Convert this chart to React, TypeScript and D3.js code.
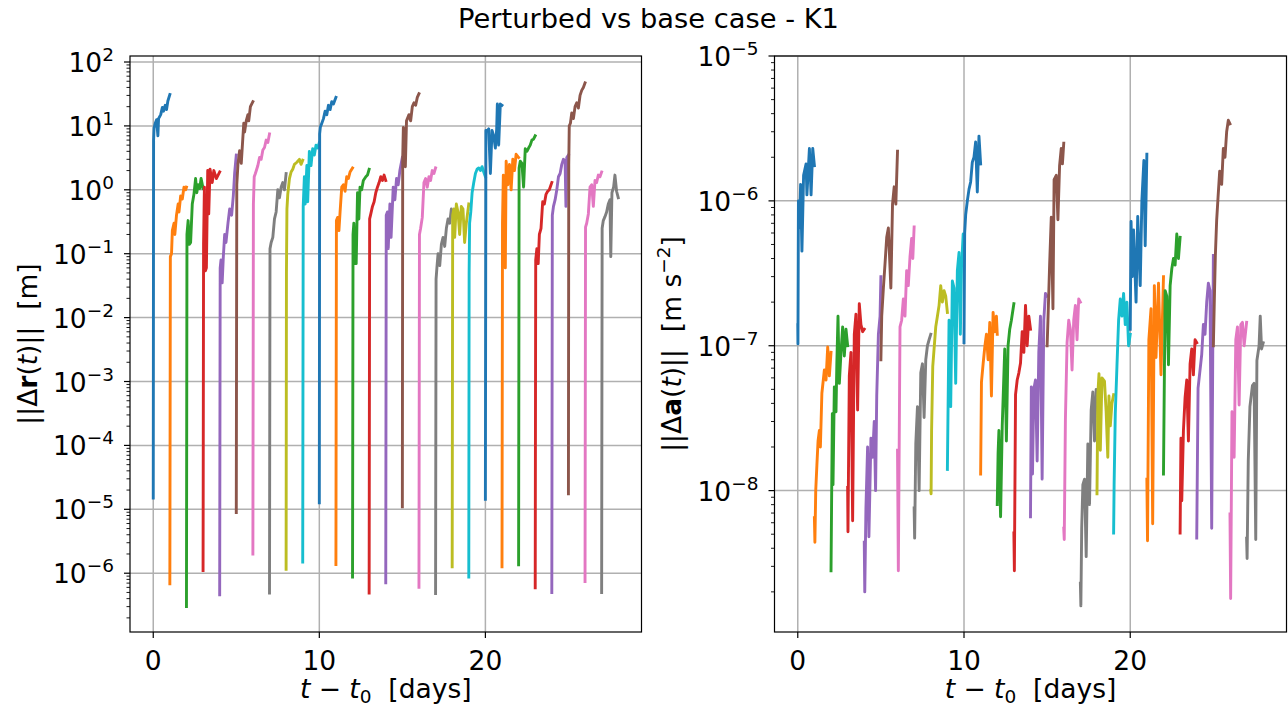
import React from 'react';
import * as d3 from 'd3';

const TITLE = 'Perturbed vs base case - K1';
const segDays = [0, 1, 2, 3, 4, 5, 6, 7, 8, 9, 10, 11, 12, 13, 14, 15, 16, 17, 18, 19, 20, 21, 22, 23, 24, 25, 26, 27];
const xTicks = [0, 10, 20];
const drTickExps = [-6, -5, -4, -3, -2, -1, 0, 1, 2];
const daTickExps = [-8, -7, -6, -5];
const colors = ['#1f77b4', '#ff7f0e', '#2ca02c', '#d62728', '#9467bd', '#8c564b', '#e377c2', '#7f7f7f', '#bcbd22', '#17becf'];

type Seg = [number, number][];

// ||Δr(t)|| [m] — [offset within the day, value]
const drSegments: Seg[] = [
  [[0, 1.5e-5], [0.02, 6], [0.05, 9.3], [0.12, 11], [0.2, 12.5], [0.28, 7], [0.32, 13], [0.45, 15], [0.55, 19.5], [0.62, 17], [0.72, 21], [0.8, 18], [0.88, 24.5], [1.0, 31]],
  [[0, 6.8e-7], [0.03, 0.09], [0.1, 0.1], [0.15, 0.23], [0.25, 0.3], [0.3, 0.2], [0.4, 0.4], [0.5, 0.6], [0.55, 0.45], [0.65, 0.8], [0.75, 0.72], [0.85, 1.1], [0.95, 1.0], [1.0, 1.1]],
  [[0, 3e-7], [0.03, 0.2], [0.1, 0.33], [0.18, 0.14], [0.25, 0.15], [0.35, 0.6], [0.45, 0.85], [0.55, 1.5], [0.62, 0.9], [0.7, 1.2], [0.8, 1.05], [0.88, 1.5], [1.0, 1.05]],
  [[0, 1.1e-6], [0.03, 0.14], [0.08, 1.1], [0.14, 0.054], [0.2, 0.06], [0.28, 2.0], [0.34, 0.42], [0.42, 2.1], [0.55, 1.3], [0.65, 2.0], [0.8, 1.5], [1.0, 1.9]],
  [[0, 4.6e-7], [0.03, 0.06], [0.08, 0.08], [0.15, 0.035], [0.22, 0.09], [0.3, 0.2], [0.38, 0.15], [0.5, 0.3], [0.6, 0.5], [0.72, 0.4], [0.82, 0.8], [0.9, 1.8], [1.0, 3.5]],
  [[0, 8.9e-6], [0.03, 1.2], [0.1, 2.5], [0.2, 4.1], [0.3, 2.6], [0.45, 11], [0.5, 8], [0.6, 12], [0.7, 15], [0.75, 12], [0.85, 20], [1.0, 24]],
  [[0, 2e-6], [0.03, 0.6], [0.08, 1.6], [0.15, 1.8], [0.3, 2.4], [0.4, 3.2], [0.5, 3.0], [0.6, 4.2], [0.7, 4.6], [0.8, 6.0], [0.9, 5.5], [1.0, 7.5]],
  [[0, 4.9e-7], [0.03, 0.12], [0.1, 0.15], [0.2, 0.18], [0.3, 0.35], [0.4, 0.45], [0.5, 1.0], [0.6, 0.75], [0.7, 1.1], [0.8, 1.3], [0.9, 1.0], [1.0, 1.8]],
  [[0, 1.15e-6], [0.02, 0.05], [0.05, 0.5], [0.1, 0.85], [0.2, 1.5], [0.3, 1.9], [0.4, 2.1], [0.5, 2.5], [0.65, 2.7], [0.8, 3.0], [0.9, 2.5], [1.0, 2.9]],
  [[0, 1.5e-6], [0.03, 0.55], [0.1, 1.6], [0.15, 0.6], [0.25, 2.4], [0.3, 0.65], [0.4, 4.0], [0.5, 2.4], [0.6, 4.4], [0.7, 3.5], [0.8, 5.0], [0.9, 4.5], [1.0, 5.5]],
  [[0, 1.26e-5], [0.02, 7.5], [0.06, 9.5], [0.15, 11], [0.25, 13], [0.35, 17], [0.45, 15], [0.55, 21], [0.65, 18], [0.75, 24], [0.85, 22], [1.0, 28]],
  [[0, 1.37e-6], [0.03, 0.33], [0.1, 0.37], [0.18, 0.23], [0.25, 0.45], [0.35, 1.1], [0.45, 1.2], [0.55, 0.95], [0.65, 1.6], [0.75, 1.5], [0.85, 1.9], [1.0, 2.2]],
  [[0, 8.7e-7], [0.03, 0.2], [0.08, 0.3], [0.15, 0.07], [0.22, 0.07], [0.3, 0.9], [0.38, 0.35], [0.45, 1.1], [0.55, 1.0], [0.65, 1.4], [0.8, 1.6], [0.9, 1.7], [1.0, 2.1]],
  [[0, 4.9e-7], [0.03, 0.35], [0.1, 0.42], [0.2, 0.55], [0.3, 0.65], [0.4, 0.9], [0.5, 1.1], [0.6, 1.3], [0.7, 1.6], [0.8, 1.4], [0.9, 1.7], [1.0, 1.4]],
  [[0, 7.1e-7], [0.03, 0.4], [0.1, 0.45], [0.15, 0.12], [0.25, 0.6], [0.32, 0.18], [0.45, 1.1], [0.55, 0.7], [0.65, 1.5], [0.75, 1.2], [0.85, 2.0], [1.0, 3.2]],
  [[0, 1.09e-5], [0.02, 3], [0.06, 9.5], [0.12, 8], [0.18, 2.3], [0.25, 12], [0.4, 15], [0.5, 12], [0.6, 20], [0.7, 23], [0.8, 21], [0.9, 28], [1.0, 32]],
  [[0, 6e-7], [0.03, 0.2], [0.1, 0.25], [0.2, 0.37], [0.3, 1.3], [0.4, 1.5], [0.5, 1.1], [0.6, 1.6], [0.7, 1.4], [0.8, 2.0], [0.9, 1.8], [1.0, 2.2]],
  [[0, 4.8e-7], [0.03, 0.04], [0.08, 0.06], [0.15, 0.1], [0.25, 0.065], [0.35, 0.14], [0.45, 0.18], [0.55, 0.13], [0.65, 0.25], [0.75, 0.35], [0.85, 0.3], [0.95, 0.5], [1.0, 0.45]],
  [[0, 1.26e-6], [0.03, 0.4], [0.1, 0.5], [0.15, 0.18], [0.25, 0.6], [0.35, 0.45], [0.45, 0.2], [0.55, 0.55], [0.65, 0.5], [0.75, 0.15], [0.85, 0.3], [1.0, 0.6]],
  [[0, 8.7e-7], [0.02, 0.05], [0.05, 0.3], [0.12, 0.45], [0.2, 0.9], [0.3, 1.3], [0.4, 1.8], [0.5, 2.1], [0.6, 2.2], [0.7, 2.0], [0.8, 2.3], [0.9, 1.9], [1.0, 1.6]],
  [[0, 1.43e-5], [0.03, 8.5], [0.1, 8.3], [0.2, 9], [0.3, 1.8], [0.4, 8.5], [0.5, 7], [0.6, 4.5], [0.68, 9], [0.72, 22], [0.8, 5], [0.9, 22], [1.0, 21]],
  [[0, 1.26e-6], [0.03, 0.3], [0.08, 1.7], [0.13, 1.5], [0.2, 0.06], [0.25, 2.8], [0.35, 1.2], [0.45, 2.5], [0.55, 1.0], [0.65, 3.0], [0.75, 2.0], [0.85, 3.6], [1.0, 3.2]],
  [[0, 1.35e-6], [0.03, 2.2], [0.1, 2.8], [0.2, 2.6], [0.3, 1.1], [0.4, 4.4], [0.5, 4.0], [0.6, 4.5], [0.7, 5.0], [0.8, 6.0], [0.9, 6.2], [1.0, 7.0]],
  [[0, 5.9e-7], [0.03, 0.08], [0.1, 0.12], [0.18, 0.07], [0.25, 0.2], [0.35, 0.25], [0.45, 0.65], [0.55, 0.6], [0.65, 0.85], [0.75, 0.95], [0.85, 1.0], [1.0, 1.3]],
  [[0, 5e-7], [0.03, 0.4], [0.1, 0.55], [0.2, 0.7], [0.3, 1.0], [0.4, 1.6], [0.5, 1.8], [0.6, 2.5], [0.7, 3.0], [0.8, 2.8], [0.85, 0.55], [0.9, 3.2], [1.0, 3.5]],
  [[0, 1.75e-5], [0.02, 2.5], [0.05, 10], [0.12, 11], [0.2, 16], [0.3, 13], [0.4, 20], [0.5, 23], [0.6, 19], [0.7, 30], [0.8, 36], [0.9, 40], [1.0, 47]],
  [[0, 7.4e-7], [0.03, 0.26], [0.1, 0.3], [0.2, 0.42], [0.3, 1.1], [0.4, 1.2], [0.5, 0.55], [0.6, 1.4], [0.7, 1.3], [0.8, 1.7], [0.9, 1.6], [1.0, 1.9]],
  [[0, 5e-7], [0.03, 0.25], [0.1, 0.33], [0.2, 0.38], [0.3, 0.45], [0.4, 0.6], [0.5, 0.7], [0.55, 0.09], [0.62, 0.9], [0.72, 1.1], [0.8, 1.7], [0.9, 0.95], [1.0, 0.75]],
];

// ||Δa(t)|| [m s^-2]
const daSegments: Seg[] = [
  [[0, 1.4e-7], [0.01, 1.03e-7], [0.04, 1.0e-6], [0.1, 6.5e-7], [0.17, 1.3e-6], [0.25, 4.5e-7], [0.35, 1.5e-6], [0.5, 1.8e-6], [0.55, 1.1e-6], [0.7, 2.3e-6], [0.8, 1.1e-6], [0.9, 2.3e-6], [1.0, 1.75e-6]],
  [[0, 6.5e-9], [0.03, 4.4e-9], [0.08, 1.0e-8], [0.15, 1.5e-8], [0.22, 2.2e-8], [0.3, 2.6e-8], [0.36, 2.0e-8], [0.45, 4.7e-8], [0.6, 6.8e-8], [0.7, 5.8e-8], [0.8, 9.8e-8], [0.9, 6.2e-8], [1.0, 9.0e-8]],
  [[0, 2.8e-9], [0.08, 3.4e-8], [0.12, 1.1e-8], [0.2, 5.2e-8], [0.3, 3.5e-8], [0.35, 7.5e-8], [0.42, 1.6e-7], [0.5, 5.5e-8], [0.6, 9e-8], [0.7, 1.35e-7], [0.8, 8.5e-8], [0.9, 1.3e-7], [1.0, 1.0e-7]],
  [[0, 1.05e-8], [0.02, 5.2e-9], [0.1, 6.2e-8], [0.2, 9e-8], [0.3, 6.2e-9], [0.4, 1.2e-7], [0.5, 1.65e-7], [0.6, 3.6e-8], [0.7, 1.95e-7], [0.8, 1.4e-7], [0.9, 1.25e-7], [1.0, 1.3e-7]],
  [[0, 4.4e-9], [0.03, 2.0e-9], [0.1, 7.5e-9], [0.2, 2.0e-8], [0.28, 4.8e-9], [0.4, 2.3e-8], [0.5, 1.7e-8], [0.6, 3e-8], [0.68, 1e-8], [0.75, 4.5e-8], [0.85, 1.2e-7], [0.95, 1.6e-7], [1.0, 3.0e-7]],
  [[0, 8e-8], [0.05, 1.6e-7], [0.15, 2.5e-7], [0.25, 3.7e-7], [0.35, 5.6e-7], [0.45, 6.5e-7], [0.6, 2.5e-7], [0.7, 9.5e-7], [0.8, 1.25e-6], [0.9, 9.5e-7], [1.0, 2.2e-6]],
  [[0, 1.9e-8], [0.05, 2.8e-9], [0.15, 1.35e-7], [0.25, 1.5e-7], [0.35, 2.1e-7], [0.45, 1.6e-7], [0.55, 3.3e-7], [0.65, 2.6e-7], [0.75, 4.1e-7], [0.85, 5.5e-7], [0.92, 4.0e-7], [1.0, 6.6e-7]],
  [[0, 7.6e-9], [0.03, 4.7e-9], [0.1, 2.1e-8], [0.2, 3.8e-8], [0.3, 1.0e-8], [0.4, 6.5e-8], [0.5, 7.5e-8], [0.6, 3.2e-8], [0.7, 8e-8], [0.8, 1.0e-7], [0.9, 1.1e-7], [1.0, 1.2e-7]],
  [[0, 1.0e-8], [0.02, 9.5e-9], [0.05, 2.6e-8], [0.12, 7.2e-8], [0.2, 9.5e-8], [0.3, 1.35e-7], [0.4, 1.6e-7], [0.5, 1.9e-7], [0.6, 2.6e-7], [0.7, 2.0e-7], [0.8, 2.4e-7], [0.9, 2.2e-7], [1.0, 1.7e-7]],
  [[0, 1.4e-8], [0.1, 1.5e-7], [0.2, 3.8e-8], [0.3, 2.8e-7], [0.4, 2.5e-7], [0.5, 5.5e-8], [0.6, 3.3e-7], [0.7, 4.4e-7], [0.78, 1.2e-7], [0.85, 3.5e-7], [0.95, 5.9e-7], [1.0, 4e-7]],
  [[0, 1.05e-7], [0.04, 6.0e-7], [0.1, 8e-7], [0.2, 1.0e-6], [0.3, 1.2e-6], [0.4, 1.35e-6], [0.5, 1.85e-6], [0.6, 2.0e-6], [0.7, 2.55e-6], [0.8, 1.15e-6], [0.9, 2.8e-6], [1.0, 1.8e-6]],
  [[0, 1.3e-8], [0.05, 5.6e-8], [0.15, 7.5e-8], [0.25, 9.8e-8], [0.35, 1.2e-7], [0.45, 8e-8], [0.55, 1.45e-7], [0.65, 4.5e-8], [0.75, 1.7e-7], [0.85, 1.25e-7], [0.95, 1.6e-7], [1.0, 1.2e-7]],
  [[0, 8e-9], [0.05, 1.8e-8], [0.1, 2.6e-8], [0.15, 1.2e-8], [0.2, 6.6e-9], [0.3, 2.8e-8], [0.45, 9.5e-8], [0.55, 2.2e-8], [0.65, 1.0e-7], [0.75, 1.3e-7], [0.85, 1.5e-7], [1.0, 1.95e-7]],
  [[0, 5.1e-9], [0.03, 2.8e-9], [0.1, 4.6e-8], [0.2, 5.8e-8], [0.3, 6.5e-8], [0.4, 7.6e-8], [0.5, 1.25e-7], [0.6, 9e-8], [0.7, 1.9e-7], [0.8, 1.0e-7], [0.9, 1.6e-7], [1.0, 1.3e-7]],
  [[0, 6.6e-9], [0.05, 5.2e-8], [0.12, 1.3e-8], [0.2, 5e-8], [0.3, 5.8e-8], [0.4, 1.6e-8], [0.5, 9e-8], [0.6, 1.6e-7], [0.7, 1.2e-8], [0.8, 1.5e-7], [0.9, 2.3e-7], [1.0, 2.2e-7]],
  [[0, 1.0e-7], [0.05, 1.5e-7], [0.15, 3.6e-7], [0.25, 7.7e-7], [0.35, 1.8e-7], [0.42, 1.4e-6], [0.55, 1.5e-6], [0.65, 7.4e-7], [0.75, 1.75e-6], [0.85, 2.3e-6], [0.92, 1.8e-6], [1.0, 2.5e-6]],
  [[0, 5.5e-9], [0.03, 4.6e-9], [0.1, 3.1e-8], [0.2, 1.05e-7], [0.3, 1.5e-7], [0.4, 1.3e-7], [0.5, 6.8e-8], [0.6, 1.5e-7], [0.7, 1.9e-7], [0.8, 1.1e-7], [0.9, 2.1e-7], [1.0, 2.0e-7]],
  [[0, 2.3e-9], [0.03, 1.6e-9], [0.08, 5.5e-9], [0.15, 1.1e-8], [0.25, 1.2e-8], [0.35, 3.5e-9], [0.45, 2.1e-8], [0.55, 8e-9], [0.65, 3.6e-8], [0.75, 4.8e-8], [0.85, 2.2e-8], [0.95, 5.0e-8], [1.0, 4.5e-8]],
  [[0, 9.5e-9], [0.05, 4.6e-8], [0.12, 6.4e-8], [0.2, 1.9e-8], [0.3, 6.0e-8], [0.45, 5.7e-8], [0.55, 3.5e-8], [0.65, 1.7e-8], [0.72, 4.5e-8], [0.8, 2.8e-8], [0.9, 4.0e-8], [1.0, 4.6e-8]],
  [[0, 5.1e-9], [0.03, 1.1e-8], [0.1, 3.4e-8], [0.2, 7.2e-8], [0.3, 1.5e-7], [0.4, 2.1e-7], [0.5, 1.6e-7], [0.6, 2.3e-7], [0.7, 1.4e-7], [0.8, 2.0e-7], [0.9, 1.0e-7], [1.0, 1.2e-7]],
  [[0, 1.3e-7], [0.05, 7.2e-7], [0.12, 3.0e-7], [0.2, 6.3e-7], [0.35, 2.0e-7], [0.45, 7.8e-7], [0.6, 2.6e-7], [0.7, 1.0e-6], [0.82, 1.9e-6], [0.9, 4.9e-7], [1.0, 2.1e-6]],
  [[0, 1.2e-8], [0.04, 4.5e-9], [0.12, 1.1e-7], [0.25, 1.8e-7], [0.35, 5.9e-9], [0.45, 2.6e-7], [0.55, 8.3e-8], [0.7, 2.7e-7], [0.85, 6.3e-8], [1.0, 3.0e-7]],
  [[0, 1.3e-8], [0.1, 2.4e-7], [0.2, 2.2e-7], [0.3, 7.4e-8], [0.4, 2.6e-7], [0.5, 3.4e-7], [0.6, 4.0e-7], [0.7, 3.6e-7], [0.8, 5.9e-7], [0.9, 4.0e-7], [1.0, 5.6e-7]],
  [[0, 5.1e-9], [0.05, 2.3e-8], [0.1, 8.5e-9], [0.2, 2.6e-8], [0.3, 4.4e-8], [0.4, 5.8e-8], [0.5, 2.2e-8], [0.6, 7.5e-8], [0.7, 9.5e-8], [0.8, 6.3e-8], [0.9, 1.1e-7], [1.0, 1.05e-7]],
  [[0, 4.7e-9], [0.08, 5.1e-8], [0.18, 6.5e-8], [0.3, 8.7e-8], [0.4, 1.4e-7], [0.5, 1.2e-7], [0.6, 2.0e-7], [0.7, 2.7e-7], [0.8, 2.4e-7], [0.9, 5.5e-9], [1.0, 4.2e-7]],
  [[0, 1.0e-7], [0.06, 2.1e-7], [0.12, 4.2e-7], [0.2, 7.4e-7], [0.28, 1.05e-6], [0.38, 1.6e-6], [0.5, 1.3e-6], [0.6, 2.3e-6], [0.7, 2.0e-6], [0.8, 3.0e-6], [0.9, 3.6e-6], [1.0, 3.4e-6]],
  [[0, 6.9e-9], [0.04, 1.8e-9], [0.12, 3.5e-8], [0.25, 1.7e-8], [0.35, 1.1e-7], [0.45, 1.35e-7], [0.55, 3.9e-8], [0.65, 1.4e-7], [0.75, 1.45e-7], [0.85, 1.0e-7], [1.0, 1.45e-7]],
  [[0, 4.7e-9], [0.03, 3.4e-9], [0.1, 1.6e-8], [0.2, 3.8e-8], [0.35, 5.3e-8], [0.45, 5.5e-8], [0.55, 4.6e-9], [0.62, 7.9e-8], [0.75, 1.0e-7], [0.82, 1.6e-7], [0.9, 9.5e-8], [1.0, 1.05e-7]],
];

const FONT = "'DejaVu Sans', sans-serif";
const TOP = 56;
const BOTTOM = 632;
const TICK_FS = 26.5;
const SUP_FS = 18.5;

type PanelDef = {
  key: string;
  left: number;
  right: number;
  yDomain: [number, number];
  tickExps: number[];
  segs: Seg[];
  labelX: number;
  label: React.ReactNode;
};

const panels: PanelDef[] = [
  {
    key: 'dr', left: 130, right: 641.5, yDomain: [Math.pow(10, -6.92), Math.pow(10, 2.094)], tickExps: drTickExps, segs: drSegments, labelX: 37,
    label: (
      <>
        <tspan>||Δ</tspan>
        <tspan fontWeight="bold">r</tspan>
        <tspan>(</tspan>
        <tspan fontStyle="italic">t</tspan>
        <tspan>)||{'\u00a0\u00a0'}[m]</tspan>
      </>
    ),
  },
  {
    key: 'da', left: 774.5, right: 1286.5, yDomain: [Math.pow(10, -8.976), 1e-5], tickExps: daTickExps, segs: daSegments, labelX: 681,
    label: (
      <>
        <tspan>||Δ</tspan>
        <tspan fontWeight="bold">a</tspan>
        <tspan>(</tspan>
        <tspan fontStyle="italic">t</tspan>
        <tspan>)||{'\u00a0\u00a0'}[m s</tspan>
        <tspan dy={-11} fontSize={SUP_FS}>−2</tspan>
        <tspan dy={11}>]</tspan>
      </>
    ),
  },
];

function Panel({ p }: { p: PanelDef }) {
  const x = d3.scaleLinear().domain([-1.4, 29.4]).range([p.left, p.right]);
  const y = d3.scaleLog().domain(p.yDomain).range([BOTTOM, TOP]);
  const line = d3.line<[number, number]>().x((d) => d[0]).y((d) => y(d[1]));
  const lo = Math.floor(Math.log10(p.yDomain[0]));
  const hi = Math.ceil(Math.log10(p.yDomain[1]));
  const minor: number[] = [];
  for (let k = lo; k < hi; k++) {
    for (let m = 2; m <= 9; m++) {
      const v = m * Math.pow(10, k);
      if (v >= p.yDomain[0] && v <= p.yDomain[1]) minor.push(v);
    }
  }
  const cx = (p.left + p.right) / 2;
  const cy = (TOP + BOTTOM) / 2;
  return (
    <g>
      {xTicks.map((t) => (
        <line key={'gx' + t} x1={x(t)} x2={x(t)} y1={TOP} y2={BOTTOM} stroke="#b0b0b0" strokeWidth={1.5} />
      ))}
      {p.tickExps.map((e) => (
        <line key={'gy' + e} x1={p.left} x2={p.right} y1={y(Math.pow(10, e))} y2={y(Math.pow(10, e))} stroke="#b0b0b0" strokeWidth={1.5} />
      ))}
      {p.segs.map((seg, i) => (
        <path
          key={'s' + i}
          d={line(seg.map((d) => [x(segDays[i] + d[0]), d[1]] as [number, number])) || ''}
          fill="none"
          stroke={colors[i % 10]}
          strokeWidth={2.9}
          strokeLinejoin="round"
          strokeLinecap="square"
        />
      ))}
      <rect x={p.left} y={TOP} width={p.right - p.left} height={BOTTOM - TOP} fill="none" stroke="#000" strokeWidth={1.2} />
      {xTicks.map((t) => (
        <g key={'xt' + t}>
          <line x1={x(t)} x2={x(t)} y1={BOTTOM} y2={BOTTOM + 6} stroke="#000" strokeWidth={1.2} />
          <text x={x(t)} y={BOTTOM + 38} textAnchor="middle" fontSize={TICK_FS} fontFamily={FONT}>{t}</text>
        </g>
      ))}
      {p.tickExps.map((e) => {
        const yy = y(Math.pow(10, e));
        return (
          <g key={'yt' + e}>
            <line x1={p.left - 6} x2={p.left} y1={yy} y2={yy} stroke="#000" strokeWidth={1.2} />
            <text x={p.left - 16} y={yy + 10} textAnchor="end" fontSize={TICK_FS} fontFamily={FONT}>
              10<tspan dy={-11} fontSize={SUP_FS}>{e < 0 ? '−' + Math.abs(e) : String(e)}</tspan>
            </text>
          </g>
        );
      })}
      {minor.map((v, i) => (
        <line key={'mn' + i} x1={p.left - 3.5} x2={p.left} y1={y(v)} y2={y(v)} stroke="#000" strokeWidth={0.9} />
      ))}
      <text x={cx} y={BOTTOM + 66} textAnchor="middle" fontSize={TICK_FS} fontFamily={FONT}>
        <tspan fontStyle="italic">t</tspan>
        <tspan>{' − '}</tspan>
        <tspan fontStyle="italic">t</tspan>
        <tspan dy={5} fontSize={SUP_FS}>0</tspan>
        <tspan dy={-5}>{'\u00a0\u00a0[days]'}</tspan>
      </text>
      <text transform={`translate(${p.labelX},${cy}) rotate(-90)`} textAnchor="middle" fontSize={TICK_FS} fontFamily={FONT}>
        {p.label}
      </text>
    </g>
  );
}

export default function App() {
  return (
    <svg width={1288} height={710} style={{ position: 'absolute', left: 0, top: 0, background: '#fff' }}>
      <rect width={1288} height={710} fill="#fff" />
      <text x={648.5} y={27.5} textAnchor="middle" fontSize={27.3} fontFamily={FONT}>{TITLE}</text>
      {panels.map((p) => (
        <Panel key={p.key} p={p} />
      ))}
    </svg>
  );
}
